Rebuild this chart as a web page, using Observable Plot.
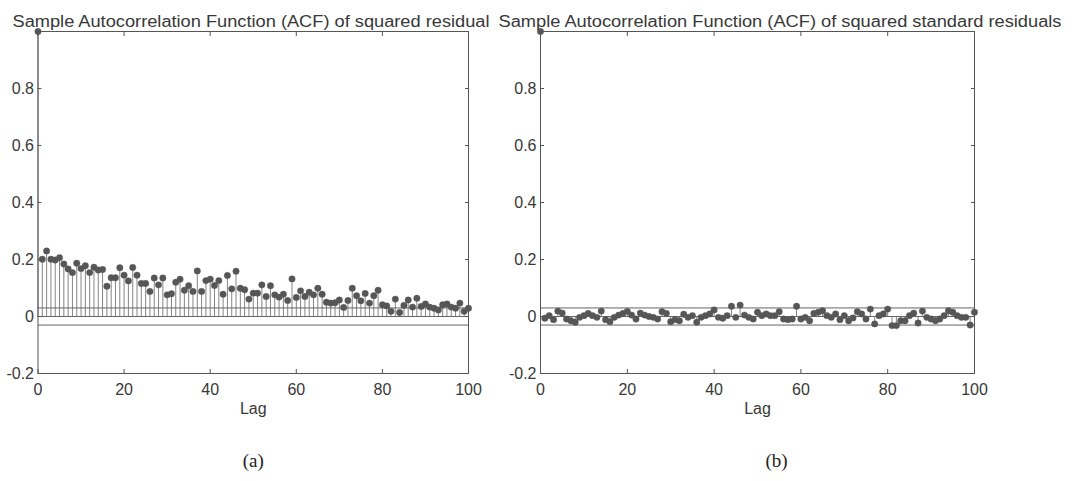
<!DOCTYPE html>
<html><head><meta charset="utf-8">
<script src="https://cdn.jsdelivr.net/npm/d3@7"></script>
<script src="https://cdn.jsdelivr.net/npm/@observablehq/plot@0.6"></script>
<style>
body{margin:0;background:#fff;}
#wrap{position:relative;width:1072px;height:481px;overflow:hidden;}
#wrap svg{position:absolute;top:0;overflow:visible;}
</style></head><body><div id="wrap"></div>
<script>
// ---- data ----
const lags = d3.range(0, 101);
const acfSquaredResidual = [1,
 0.201,0.230,0.201,0.198,0.206,0.184,0.167,0.154,0.187,0.168,
 0.178,0.154,0.173,0.163,0.165,0.106,0.136,0.136,0.171,0.145,
 0.125,0.172,0.145,0.116,0.116,0.088,0.135,0.111,0.135,0.076,
 0.080,0.120,0.131,0.092,0.108,0.088,0.160,0.088,0.126,0.131,
 0.109,0.126,0.078,0.144,0.097,0.159,0.099,0.094,0.061,0.082,
 0.082,0.111,0.070,0.108,0.076,0.068,0.078,0.056,0.132,0.067,
 0.090,0.070,0.085,0.076,0.099,0.078,0.050,0.047,0.048,0.058,
 0.032,0.056,0.099,0.073,0.055,0.081,0.047,0.073,0.092,0.041,
 0.037,0.018,0.061,0.014,0.039,0.058,0.033,0.064,0.035,0.044,
 0.033,0.029,0.023,0.041,0.044,0.033,0.029,0.047,0.018,0.029];
const acfSquaredStdResidual = [1,
 -0.006,0.003,-0.011,0.019,0.012,-0.009,-0.015,-0.020,-0.003,0.003,
 0.011,0.003,-0.003,0.019,-0.011,-0.018,-0.003,0.005,0.011,0.018,
 0.005,-0.009,0.012,0.005,0.000,-0.003,-0.009,0.017,0.011,-0.018,
 -0.011,-0.015,0.008,-0.003,0.003,-0.020,-0.003,0.003,0.009,0.023,
 -0.003,-0.006,0.003,0.036,-0.003,0.040,0.005,-0.003,-0.009,0.015,
 0.003,0.009,0.003,0.003,0.017,-0.009,-0.011,-0.009,0.036,-0.009,
 -0.003,-0.015,0.011,0.015,0.020,0.003,-0.003,0.009,-0.011,0.003,
 -0.015,-0.005,0.017,0.009,-0.009,0.026,-0.026,0.003,0.009,0.026,
 -0.032,-0.032,-0.015,-0.015,0.003,0.012,-0.023,0.019,-0.003,-0.009,
 -0.015,-0.009,0.003,0.020,0.015,0.003,-0.003,-0.003,-0.030,0.015];
const confBound = 0.03;
const xTicks = [0, 20, 40, 60, 80, 100];
const yTicks = [-0.2, 0, 0.2, 0.4, 0.6, 0.8];
const titles = ["Sample Autocorrelation Function (ACF) of squared residual",
                "Sample Autocorrelation Function (ACF) of squared standard residuals"];
const xLabel = "Lag";
const subLabels = ["(a)", "(b)"];

const SANS = "'Liberation Sans', Arial, Helvetica, sans-serif";
const SERIF = "'Liberation Serif', 'Times New Roman', serif";
const INK = "#383838";
const LINE = "#555";

function panel(values, cfg) {
  const data = values.map((v, i) => ({lag: lags[i], acf: v}));
  const svg = Plot.plot({
    width: cfg.width, height: 481,
    marginLeft: cfg.mLeft, marginRight: cfg.mRight, marginTop: 31, marginBottom: 108,
    x: {domain: [0, 100], axis: null},
    y: {domain: [-0.2, 1], axis: null},
    style: {fontFamily: SANS, fontSize: "16px", color: INK, background: "transparent", overflow: "visible"},
    marks: [
      Plot.ruleY([0, confBound, -confBound], {stroke: LINE, strokeWidth: 0.9}),
      Plot.ruleX(data, {x: "lag", y1: 0, y2: "acf", stroke: "#666", strokeWidth: 0.8}),
      Plot.dot(data, {x: "lag", y: "acf", r: 3.2, fill: "#565656", stroke: "#565656", strokeWidth: 0.4}),
      Plot.frame({stroke: LINE, strokeWidth: 1}),
      // labels
      Plot.axisX({ticks: xTicks, anchor: "bottom", label: null, tickSize: 0, tickPadding: 10, fontSize: 16, fill: INK}),
      Plot.axisY({ticks: yTicks, anchor: "left", label: null, tickSize: 0, tickPadding: 4, fontSize: 16, fill: INK, tickFormat: d => String(d)}),
      // inward ticks on all four sides
      Plot.axisX({ticks: xTicks, anchor: "bottom", label: null, tickSize: 4, dy: -4, tickFormat: () => "", stroke: LINE}),
      Plot.axisX({ticks: xTicks, anchor: "top", label: null, tickSize: 4, dy: 4, tickFormat: () => "", stroke: LINE}),
      Plot.axisY({ticks: yTicks, anchor: "left", label: null, tickSize: 4, dx: 4, tickFormat: () => "", stroke: LINE}),
      Plot.axisY({ticks: yTicks, anchor: "right", label: null, tickSize: 4, dx: -4, tickFormat: () => "", stroke: LINE}),
      // titles and labels
      Plot.text([cfg.title], {frameAnchor: "top-left", textAnchor: "start", dx: cfg.titleDx, dy: -16, fontSize: 16, fill: INK}),
      Plot.text([xLabel], {frameAnchor: "bottom", dx: cfg.lagDx, dy: 40, fontSize: 16, fill: INK}),
      Plot.text([cfg.sub], {frameAnchor: "bottom", dx: cfg.subDx, dy: 93, fontSize: 19, fontFamily: SERIF, fill: "#222"})
    ]
  });
  svg.style.left = cfg.left + "px";
  d3.select(svg).selectAll("text").filter(function() { return this.textContent === cfg.title; })
    .attr("textLength", cfg.titleW).attr("lengthAdjust", "spacingAndGlyphs");
  document.getElementById("wrap").appendChild(svg);
}

panel(acfSquaredResidual, {left: 0, width: 495, mLeft: 37.5, mRight: 27,
  title: titles[0], titleDx: -25.5, titleW: 477, lagDx: 0, sub: subLabels[0], subDx: 0});
panel(acfSquaredStdResidual, {left: 495, width: 577, mLeft: 45, mRight: 98,
  title: titles[1], titleDx: -42, titleW: 563, lagDx: 0, sub: subLabels[1], subDx: 19});
</script>
</body></html>
